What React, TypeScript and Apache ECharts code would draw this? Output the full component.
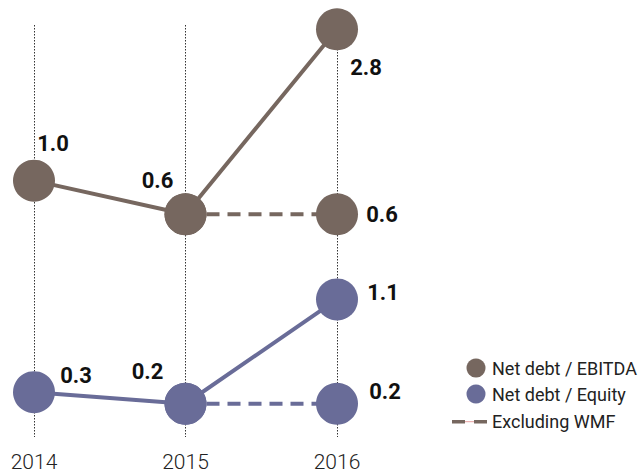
import React, { useEffect, useRef } from "react";
import * as echarts from "echarts";

const years = ["2014", "2015", "2016"];
const ebitda = [1.0, 0.6, 2.8];
const ebitdaExcl = [null, 0.6, 0.6];
const equity = [0.3, 0.2, 1.1];
const equityExcl = [null, 0.2, 0.2];
const legendNames = ["Net debt / EBITDA", "Net debt / Equity", "Excluding WMF"];

const BROWN = "#76675F";
const PURPLE = "#696C98";

const ebitdaOffsets = [[19, -37], [-28, -34], [29, 38]];
const ebitdaExclOffsets = [null, null, [45, 0]];
const equityOffsets = [[42, -17], [-38, -32], [46, -7]];
const equityExclOffsets = [null, null, [48, -12]];

function buildData(values: (number | null)[], offsets: (number[] | null)[]) {
  return values.map((v, i) => {
    const off = offsets[i];
    return {
      value: v,
      label: off
        ? { show: true, position: "inside", offset: off }
        : { show: false },
    };
  });
}

const labelStyle = {
  color: "#111",
  fontSize: 22,
  fontWeight: "bold",
  fontFamily: "Roboto",
  formatter: (p: any) => Number(p.value).toFixed(1),
};

export default function App() {
  const ref = useRef<HTMLDivElement>(null);
  useEffect(() => {
    const chart = echarts.init(ref.current!, null, { renderer: "svg" });
    const lineSeries = (
      name: string,
      values: (number | null)[],
      offsets: (number[] | null)[],
      color: string,
      yIdx: number,
      dashed: boolean
    ) => ({
      name,
      type: "line",
      yAxisIndex: yIdx,
      data: buildData(values, offsets),
      symbol: "circle",
      symbolSize: 42,
      showAllSymbol: true,
      connectNulls: false,
      itemStyle: { color, opacity: 1 },
      lineStyle: dashed
        ? { color, width: 4, type: [13, 8] }
        : { color, width: 4, type: "solid" },
      label: { ...labelStyle },
      emphasis: { disabled: true },
      z: dashed ? 2 : 3,
    });
    chart.setOption({
      animation: false,
      grid: { left: 34, right: 303, top: 25, bottom: 34 },
      xAxis: {
        type: "category",
        data: years,
        boundaryGap: false,
        axisLine: { show: false },
        axisTick: { show: false },
        axisLabel: {
          color: "#222",
          fontSize: 21,
          fontWeight: 300,
          fontFamily: "Roboto",
          margin: 14,
        },
        splitLine: {
          show: true,
          interval: 0,
          lineStyle: { color: "#333", width: 1, type: [1.5, 1.5] },
        },
      },
      yAxis: [
        { type: "value", show: false, min: -2.049, max: 2.851, splitLine: { show: false } },
        { type: "value", show: false, min: -0.087, max: 3.467, splitLine: { show: false } },
      ],
      series: [
        lineSeries(legendNames[2], ebitdaExcl, ebitdaExclOffsets, BROWN, 0, true),
        lineSeries(legendNames[2] + " ", equityExcl, equityExclOffsets, PURPLE, 1, true),
        lineSeries(legendNames[0], ebitda, ebitdaOffsets, BROWN, 0, false),
        lineSeries(legendNames[1], equity, equityOffsets, PURPLE, 1, false),
      ],
      graphic: [
        { type: "circle", shape: { cx: 476, cy: 368, r: 9.5 }, style: { fill: BROWN } },
        { type: "circle", shape: { cx: 476, cy: 394, r: 9.5 }, style: { fill: PURPLE } },
        { type: "line", shape: { x1: 465, y1: 421.7, x2: 474, y2: 421.7 }, style: { stroke: "#E8A0A0", lineWidth: 1 } },
        { type: "rect", shape: { x: 452, y: 420, width: 13, height: 3.5 }, style: { fill: BROWN } },
        { type: "rect", shape: { x: 474, y: 420, width: 13, height: 3.5 }, style: { fill: BROWN } },
        ...legendNames.map((n, i) => ({
          type: "text",
          x: 492,
          y: [368, 394, 421.7][i],
          style: {
            text: n,
            fill: "#222",
            fontSize: 18,
            fontFamily: "Roboto",
            verticalAlign: "middle",
          },
        })),
      ],
    });
    return () => chart.dispose();
  }, []);
  return (
    <div
      ref={ref}
      style={{ position: "absolute", left: 0, top: 0, width: 640, height: 472 }}
    />
  );
}
